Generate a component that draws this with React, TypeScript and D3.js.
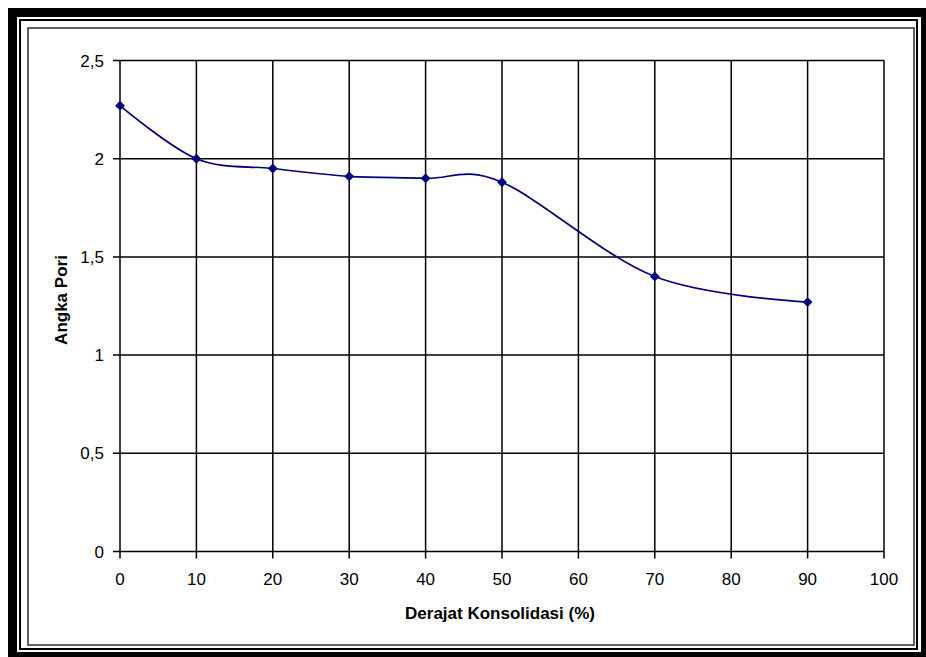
import React from "react";
import * as d3 from "d3";

const xValues = [0, 10, 20, 30, 40, 50, 70, 90];
const yValues = [2.27, 2.0, 1.95, 1.91, 1.9, 1.88, 1.4, 1.27];
const xTicks = [0, 10, 20, 30, 40, 50, 60, 70, 80, 90, 100];
const yTicks = [0, 0.5, 1, 1.5, 2, 2.5];
const yTickLabels = ["0", "0,5", "1", "1,5", "2", "2,5"];
const xTitle = "Derajat Konsolidasi (%)";
const yTitle = "Angka Pori";

const W = 926;
const H = 657;
const FONT = "Arial, 'Liberation Sans', sans-serif";

export default function App() {
  const x = d3.scaleLinear().domain([0, 100]).range([120, 884]);
  const y = d3.scaleLinear().domain([0, 2.5]).range([551.5, 60.5]);
  const pts: [number, number][] = xValues.map((v, i) => [x(v), y(yValues[i])]);
  const line = d3.line().curve(d3.curveCatmullRom.alpha(0))(pts) || "";
  const diamond = d3.symbol().type(d3.symbolDiamond2).size(62)() || "";

  return (
    <svg
      width={W}
      height={H}
      style={{ position: "absolute", left: 0, top: 0, display: "block" }}
      fontFamily={FONT}
    >
      <rect x={0} y={0} width={W} height={H} fill="#fff" />
      {/* outer frame */}
      <rect x={8} y={8} width={1000} height={1000} fill="#000" />
      <rect x={17} y={17} width={904} height={635} fill="#fff" />
      <rect x={20} y={20} width={897} height={629} fill="none" stroke="#000" strokeWidth={2} />
      <rect x={28} y={28} width={886} height={617} fill="#fff" stroke="#3a3a3a" strokeWidth={1.6} />

      {/* grid */}
      {xTicks.map((t) => (
        <line key={"gx" + t} x1={x(t)} x2={x(t)} y1={y(2.5)} y2={y(0) + 7} stroke="#000" strokeWidth={1.5} />
      ))}
      {yTicks.map((t) => (
        <line key={"gy" + t} x1={x(0) - 7} x2={x(100)} y1={y(t)} y2={y(t)} stroke="#000" strokeWidth={1.5} />
      ))}

      {/* tick labels */}
      {yTicks.map((t, i) => (
        <text key={"ly" + t} x={104} y={y(t)} dy="0.36em" textAnchor="end" fontSize={17} fill="#000">
          {yTickLabels[i]}
        </text>
      ))}
      {xTicks.map((t) => (
        <text key={"lx" + t} x={x(t)} y={585} textAnchor="middle" fontSize={17} fill="#000">
          {t}
        </text>
      ))}

      {/* titles */}
      <text x={500} y={619} textAnchor="middle" fontSize={17} fontWeight="bold" fill="#000">
        {xTitle}
      </text>
      <text
        transform={`translate(67, 300) rotate(-90)`}
        textAnchor="middle"
        fontSize={17}
        fontWeight="bold"
        fill="#000"
      >
        {yTitle}
      </text>

      {/* series */}
      <path d={line} fill="none" stroke="#000080" strokeWidth={1.7} />
      {pts.map((p, i) => (
        <path key={"m" + i} d={diamond} transform={`translate(${p[0]},${p[1]})`} fill="#000080" />
      ))}
    </svg>
  );
}
